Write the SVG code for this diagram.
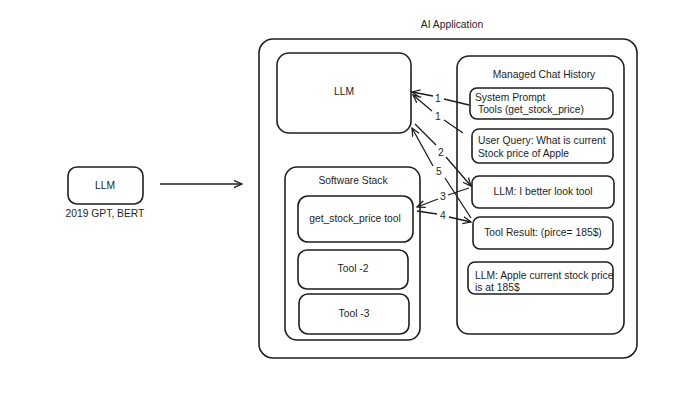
<svg xmlns="http://www.w3.org/2000/svg" width="700" height="393" viewBox="0 0 700 393">
<style>
.b{fill:#fff;stroke:#1e1e1e;stroke-width:1.6}
.t{font-family:"Liberation Sans",Arial,sans-serif;font-size:10.3px;fill:#1e1e1e}
.c{text-anchor:middle}
.l{fill:none;stroke:#1e1e1e;stroke-width:1.3}
</style>
<defs>
<marker id="a" viewBox="0 0 10 10" refX="9" refY="5" markerWidth="9" markerHeight="9" orient="auto-start-reverse" markerUnits="userSpaceOnUse">
<path d="M0,1 L9,5 L0,9" fill="none" stroke="#1e1e1e" stroke-width="1.4"/>
</marker>
</defs>
<rect width="700" height="393" fill="#fff"/>
<g id="llm-left"><rect class="b" x="68" y="167" width="75" height="37" rx="9"/><text class="t c" x="105" y="189">LLM</text><text class="t c" x="105" y="217">2019 GPT, BERT</text></g>
<g id="app"><rect class="b" x="259" y="39" width="378" height="319" rx="14"/><text class="t c" x="452" y="28">AI Application</text></g>
<g id="llm"><rect class="b" x="277" y="53" width="134" height="80" rx="12"/><text class="t c" x="344" y="95">LLM</text></g>
<g id="history"><rect class="b" x="457" y="56" width="167" height="278" rx="12"/><text class="t c" x="544" y="78">Managed Chat History</text></g>
<g id="sys"><rect class="b" x="470" y="88" width="143" height="31" rx="7"/><text class="t" x="475" y="101">System Prompt</text><text class="t" x="478" y="113">Tools (get_stock_price)</text></g>
<g id="query"><rect class="b" x="472" y="129" width="141" height="34" rx="7"/><text class="t" x="478" y="144">User Query: What is current</text><text class="t" x="478" y="157">Stock price of Apple</text></g>
<g id="look"><rect class="b" x="472" y="176" width="142" height="32" rx="7"/><text class="t c" x="543" y="195">LLM: I better look tool</text></g>
<g id="result"><rect class="b" x="473" y="217" width="140" height="32" rx="7"/><text class="t c" x="543" y="236">Tool Result: (pirce= 185$)</text></g>
<g id="answer"><rect class="b" x="468" y="262" width="145" height="32" rx="7"/><text class="t" x="475" y="279">LLM: Apple current stock price</text><text class="t" x="475" y="291">is at 185$</text></g>
<g id="stack"><rect class="b" x="285" y="167" width="135" height="173" rx="12"/><text class="t c" x="353" y="184">Software Stack</text></g>
<g id="tool1"><rect class="b" x="298" y="196" width="115" height="46" rx="10"/><text class="t c" x="355" y="222">get_stock_price tool</text></g>
<g id="tool2"><rect class="b" x="298" y="250" width="110" height="39" rx="9"/><text class="t c" x="353" y="272">Tool -2</text></g>
<g id="tool3"><rect class="b" x="299" y="294" width="110" height="40" rx="9"/><text class="t c" x="354" y="317">Tool -3</text></g>
<g id="connectors">
<path class="l" d="M160,184 L242,184" marker-end="url(#a)"/>
<path class="l" d="M469,105 L444,99 M433,96 L412,92" marker-end="url(#a)"/>
<path class="l" d="M463,133 L444,120 M432,111 L413,95" marker-end="url(#a)"/>
<path class="l" d="M415,124 L436,145 M446,157 L471,186" marker-end="url(#a)"/>
<path class="l" d="M471,218 L445,178 M433,166 L412,128" marker-end="url(#a)"/>
<path class="l" d="M469,188 L448,195 M438,199 L417,207" marker-end="url(#a)"/>
<path class="l" d="M417,211 L437,214 M449,217 L471,222" marker-end="url(#a)"/>
<text class="t" x="435" y="102">1</text>
<text class="t" x="435" y="120">1</text>
<text class="t" x="438" y="156">2</text>
<text class="t" x="436" y="175">5</text>
<text class="t" x="440" y="200">3</text>
<text class="t" x="440" y="219">4</text>
</g>
</svg>
